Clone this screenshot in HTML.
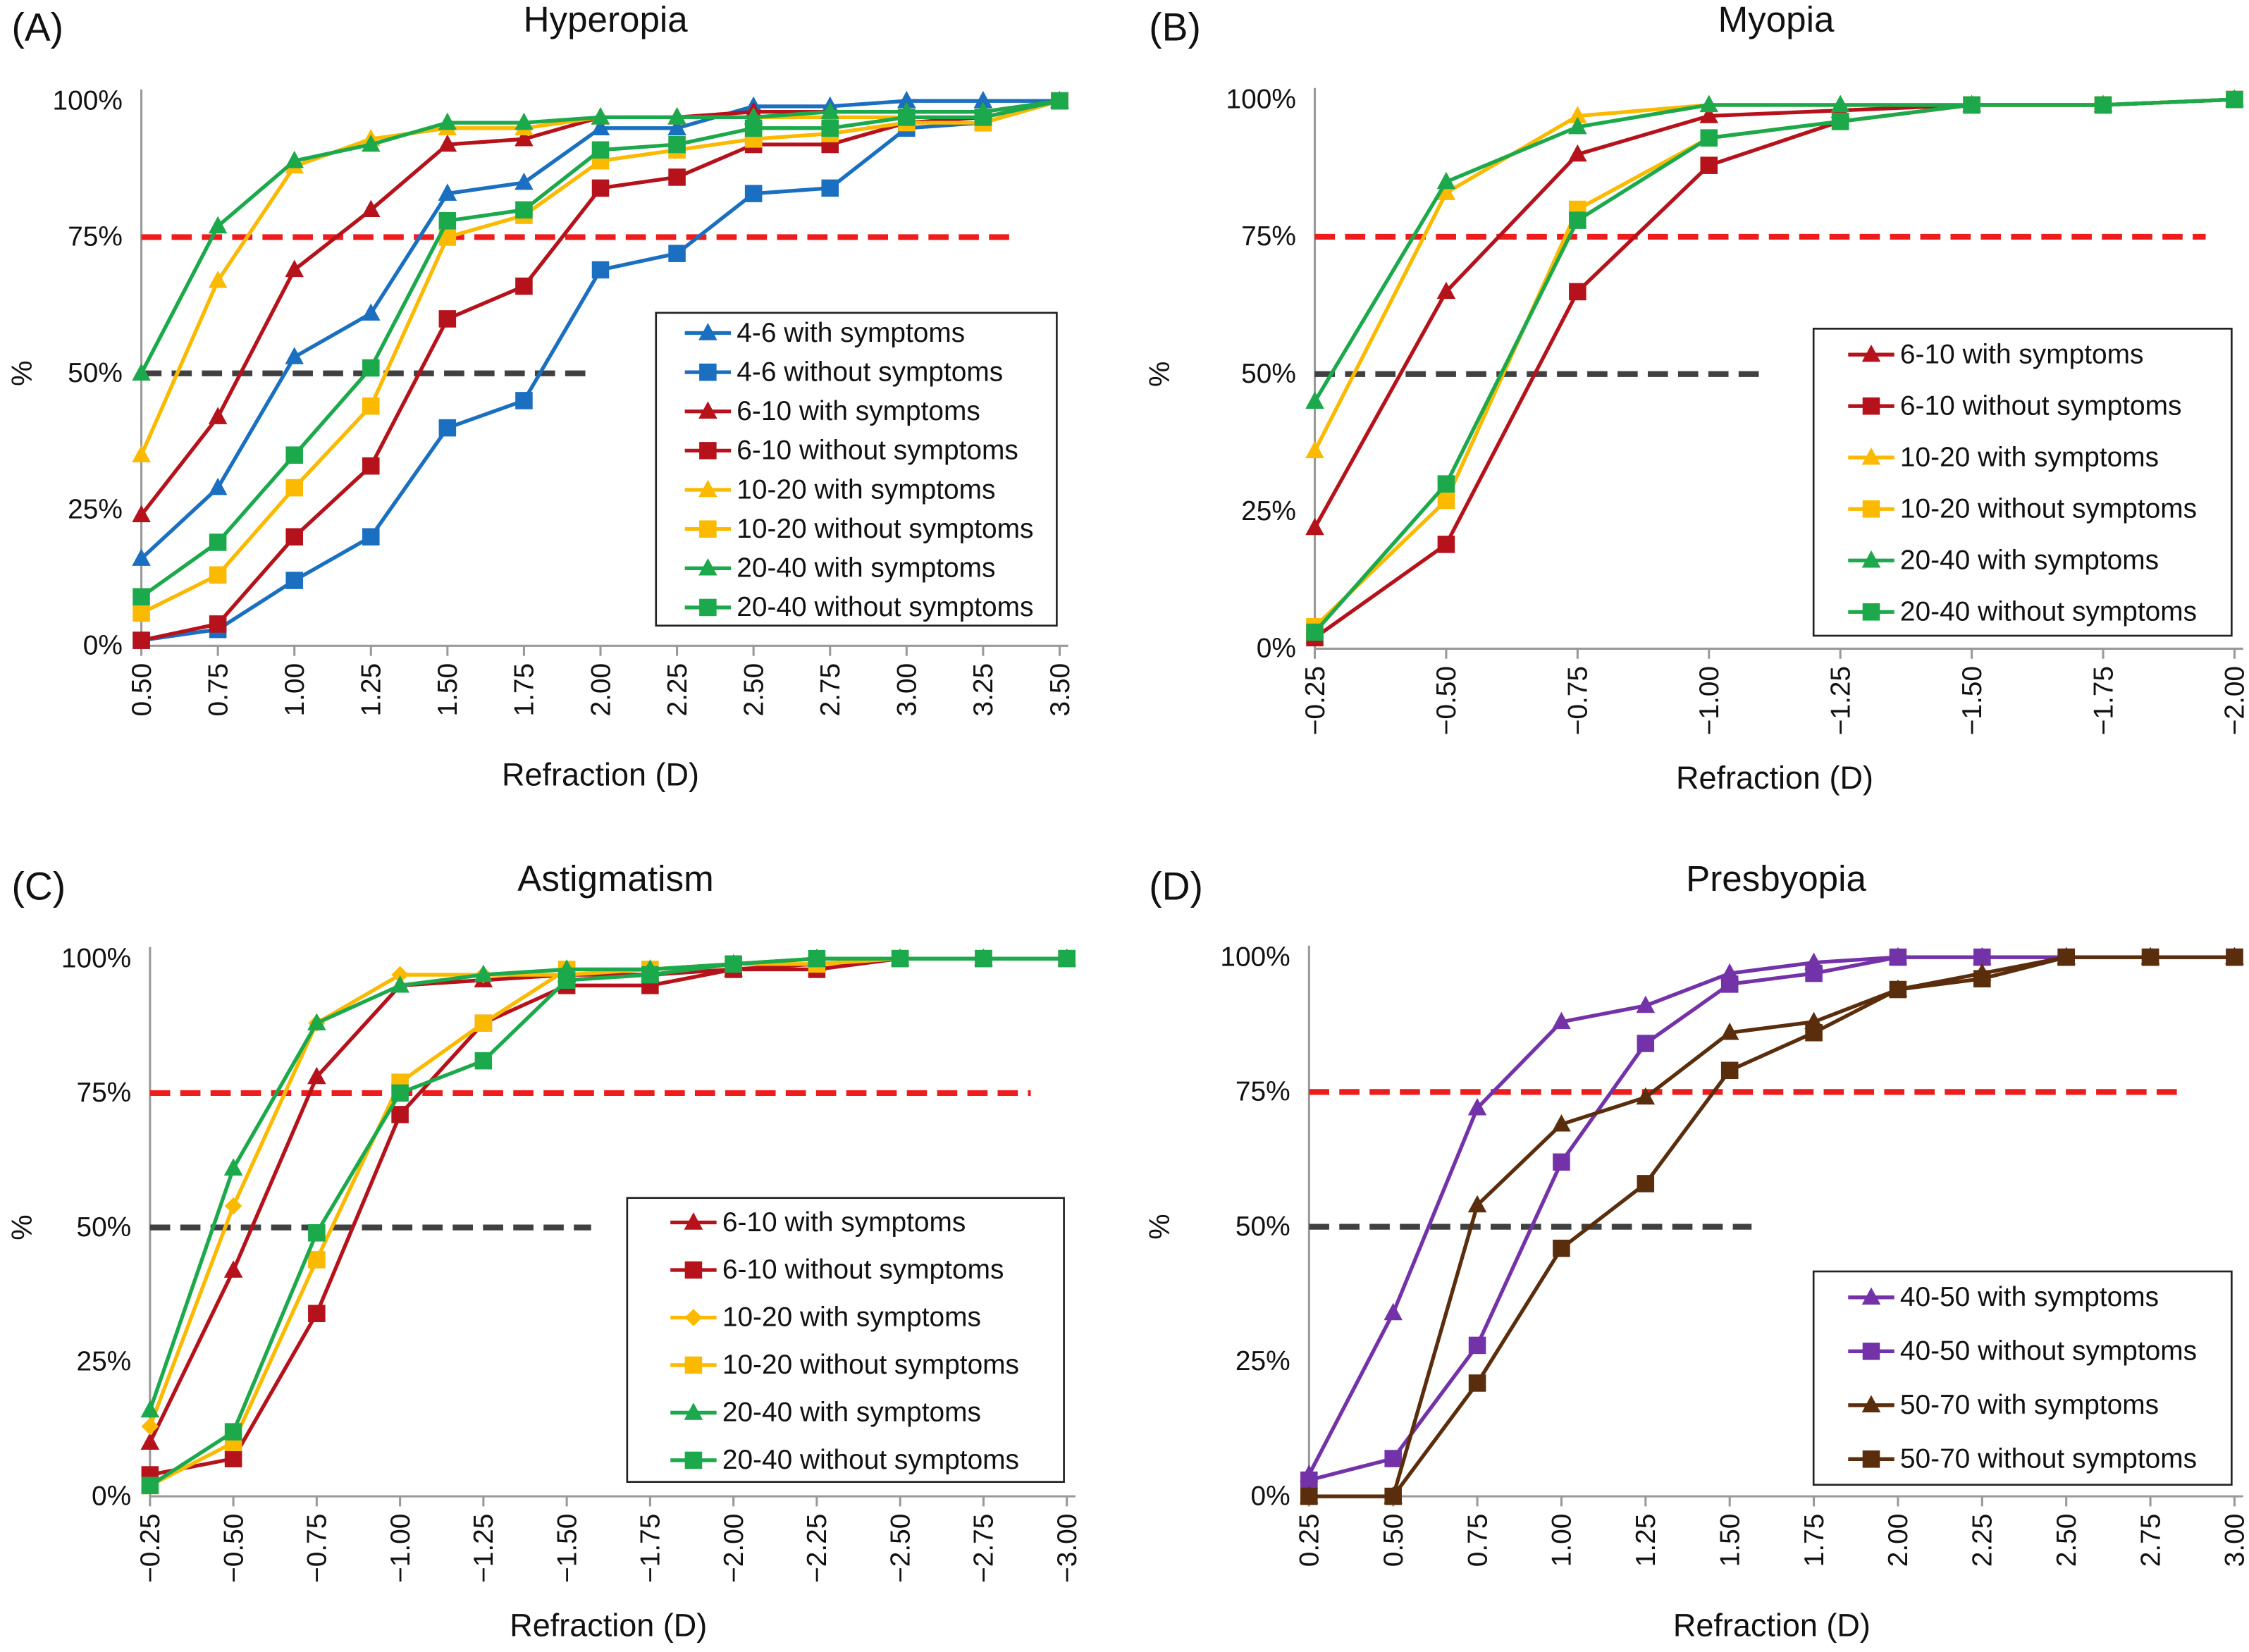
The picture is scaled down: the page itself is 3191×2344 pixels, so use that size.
<!DOCTYPE html>
<html><head><meta charset="utf-8"><style>
html,body{margin:0;padding:0;background:#fff}
svg{display:block}
text{font-family:"Liberation Sans",Arial,sans-serif;fill:#111}
</style></head><body>
<svg id="fig" width="3191" height="2344" viewBox="0 0 1560 1146" xmlns="http://www.w3.org/2000/svg"></svg>
<script>
// ---------- Data ----------
const catsA = ["0.50","0.75","1.00","1.25","1.50","1.75","2.00","2.25","2.50","2.75","3.00","3.25","3.50"];
const a46w = [16,29,53,61,83,85,95,95,99,99,100,100,100];
const a46wo = [1,3,12,20,40,45,69,72,83,84,95,96,100];
const a610w = [24,42,69,80,92,93,97,97,98,98,98,98,100];
const a610wo = [1,4,20,33,60,66,84,86,92,92,96,97,100];
const a1020w = [35,67,88,93,95,95,97,97,97,97,97,97,100];
const a1020wo = [6,13,29,44,75,79,89,91,93,94,96,96,100];
const a2040w = [50,77,89,92,96,96,97,97,97,98,98,98,100];
const a2040wo = [9,19,35,51,78,80,91,92,95,95,97,97,100];

const catsB = ["\u22120.25","\u22120.50","\u22120.75","\u22121.00","\u22121.25","\u22121.50","\u22121.75","\u22122.00"];
const b610w = [22,65,90,97,98,99,99,100];
const b610wo = [2,19,65,88,96,99,99,100];
const b1020w = [36,83,97,99,99,99,99,100];
const b1020wo = [4,27,80,93,96,99,99,100];
const b2040w = [45,85,95,99,99,99,99,100];
const b2040wo = [3,30,78,93,96,99,99,100];

const catsC = ["\u22120.25","\u22120.50","\u22120.75","\u22121.00","\u22121.25","\u22121.50","\u22121.75","\u22122.00","\u22122.25","\u22122.50","\u22122.75","\u22123.00"];
const c610w = [10,42,78,95,96,97,97,98,99,100,100,100];
const c610wo = [4,7,34,71,88,95,95,98,98,100,100,100];
const c1020w = [13,54,88,97,97,97,98,99,100,100,100,100];
const c1020wo = [2,10,44,77,88,98,98,99,99,100,100,100];
const c2040w = [16,61,88,95,97,98,98,99,100,100,100,100];
const c2040wo = [2,12,49,75,81,96,97,99,100,100,100,100];

const catsD = ["0.25","0.50","0.75","1.00","1.25","1.50","1.75","2.00","2.25","2.50","2.75","3.00"];
const d4050w = [4,34,72,88,91,97,99,100,100,100,100,100];
const d4050wo = [3,7,28,62,84,95,97,100,100,100,100,100];
const d5070w = [0,0,54,69,74,86,88,94,97,100,100,100];
const d5070wo = [0,0,21,46,58,79,86,94,96,100,100,100];

const yTicks = [0,25,50,75,100];
const yTickLabels = ["0%","25%","50%","75%","100%"];

const BLUE="#1b6fc0", RED="#b5121b", YEL="#fbb900", GRN="#1ba94c", PUR="#7432a8", BRN="#5a2d0c";
const NS="http://www.w3.org/2000/svg";
const svg=document.getElementById('fig');
function mk(tag,attrs,parent){const e=document.createElementNS(NS,tag);for(const k in attrs)e.setAttribute(k,attrs[k]);(parent||svg).appendChild(e);return e;}

function panel(cfg){
  const g=mk('g',{});
  
  
  const n=cfg.cats.length;
  const xs=i=>cfg.x0+(cfg.x1-cfg.x0)*i/(n-1);
  const ys=v=>cfg.y0-(cfg.y0-cfg.y100)*v/100;
  let t=mk('text',{x:cfg.titleX,y:cfg.titleY,'font-size':25,'text-anchor':'middle'},g);t.textContent=cfg.title;
  
  t=mk('text',{x:cfg.labX,y:cfg.titleY+6,'font-size':27},g);t.textContent=cfg.lab;
  
  let ax=mk('line',{x1:cfg.x0,y1:cfg.y0,x2:cfg.x1+6,y2:cfg.y0,stroke:'#999','stroke-width':1.5},g);
  
  ax=mk('line',{x1:cfg.x0,y1:cfg.y0,x2:cfg.x0,y2:cfg.y100-8,stroke:'#999','stroke-width':1.5},g);
  
  yTicks.forEach((v,i)=>{
    const tl=mk('text',{x:cfg.x0-13,y:ys(v)+6,'font-size':19,'text-anchor':'end'},g);tl.textContent=yTickLabels[i];
    
  });
  cfg.cats.forEach((c,i)=>{
    mk('line',{x1:xs(i),y1:cfg.y0,x2:xs(i),y2:cfg.y0+7,stroke:'#999','stroke-width':1.5},g);
    const tl=mk('text',{x:0,y:0,'font-size':19,'text-anchor':'end',transform:`translate(${xs(i)+6.5},${cfg.y0+12}) rotate(-90)`},g);tl.textContent=c;
    
  });
  t=mk('text',{x:(cfg.x0+cfg.x1)/2,y:cfg.y0+97,'font-size':22,'text-anchor':'middle'},g);t.textContent='Refraction (D)';
  
  t=mk('text',{x:0,y:0,'font-size':20,'text-anchor':'middle',transform:`translate(${cfg.labX+14},${ys(50)}) rotate(-90)`},g);t.textContent='%';
  
  let rl=mk('line',{x1:cfg.x0,y1:ys(75),x2:cfg.redEnd,y2:ys(75),stroke:'#ee1c1c','stroke-width':4,'stroke-dasharray':'14 7'},g);
  
  rl=mk('line',{x1:cfg.x0,y1:ys(50),x2:cfg.blkEnd,y2:ys(50),stroke:'#404040','stroke-width':4,'stroke-dasharray':'14 7'},g);
  
  cfg.series.forEach(s=>{
    const sg=mk('g',{},g);
    
    
    mk('polyline',{points:s.v.map((v,i)=>xs(i)+','+ys(v)).join(' '),fill:'none',stroke:s.c,'stroke-width':2.6,'stroke-linejoin':'round'},sg);
    s.v.forEach((v,i)=>marker(sg,s.m,xs(i),ys(v),s.c));
  });
  const L=cfg.leg;
  const lb=mk('rect',{x:L.x,y:L.y,width:L.w,height:L.h,fill:'#fff',stroke:'#222','stroke-width':1.3},g);
  
  cfg.series.forEach((s,i)=>{
    const yy=L.y0+L.dy*i;
    const lg=mk('g',{},g);
    
    
    mk('line',{x1:L.x+L.lx,y1:yy,x2:L.x+L.lx+32,y2:yy,stroke:s.c,'stroke-width':2.6},lg);
    marker(lg,s.m,L.x+L.lx+16,yy,s.c);
    const tt=mk('text',{x:L.x+L.lx+36,y:yy+6,'font-size':19},lg);tt.textContent=s.name;
  });
}
function marker(p,m,x,y,c){
  if(m==='s') mk('rect',{x:x-6,y:y-6,width:12,height:12,fill:c},p);
  else if(m==='t') mk('polygon',{points:`${x},${y-7} ${x+6.5},${y+5} ${x-6.5},${y+5}`,fill:c},p);
  else mk('polygon',{points:`${x},${y-6} ${x+6},${y} ${x},${y+6} ${x-6},${y}`,fill:c},p);
}

panel({id:'hyperopia',title:'Hyperopia',lab:'(A)',labX:8,titleX:420,titleY:22,cats:catsA,x0:98,x1:735,y0:448,y100:70,redEnd:707,blkEnd:407,
  series:[{name:'4-6 with symptoms',v:a46w,c:BLUE,m:'t'},{name:'4-6 without symptoms',v:a46wo,c:BLUE,m:'s'},
  {name:'6-10 with symptoms',v:a610w,c:RED,m:'t'},{name:'6-10 without symptoms',v:a610wo,c:RED,m:'s'},
  {name:'10-20 with symptoms',v:a1020w,c:YEL,m:'t'},{name:'10-20 without symptoms',v:a1020wo,c:YEL,m:'s'},
  {name:'20-40 with symptoms',v:a2040w,c:GRN,m:'t'},{name:'20-40 without symptoms',v:a2040wo,c:GRN,m:'s'}],
  leg:{x:455,y:217,w:278,h:217,y0:231,dy:27.2,lx:20}});
panel({id:'myopia',title:'Myopia',lab:'(B)',labX:797,titleX:1232,titleY:22,cats:catsB,x0:912,x1:1550,y0:450,y100:69,redEnd:1530,blkEnd:1220,
  series:[{name:'6-10 with symptoms',v:b610w,c:RED,m:'t'},{name:'6-10 without symptoms',v:b610wo,c:RED,m:'s'},
  {name:'10-20 with symptoms',v:b1020w,c:YEL,m:'t'},{name:'10-20 without symptoms',v:b1020wo,c:YEL,m:'s'},
  {name:'20-40 with symptoms',v:b2040w,c:GRN,m:'t'},{name:'20-40 without symptoms',v:b2040wo,c:GRN,m:'s'}],
  leg:{x:1258,y:228,w:290,h:213,y0:246,dy:35.7,lx:24}});
panel({id:'astigmatism',title:'Astigmatism',lab:'(C)',labX:8,titleX:427,titleY:618,cats:catsC,x0:104,x1:740,y0:1038,y100:665,redEnd:715,blkEnd:410,
  series:[{name:'6-10 with symptoms',v:c610w,c:RED,m:'t'},{name:'6-10 without symptoms',v:c610wo,c:RED,m:'s'},
  {name:'10-20 with symptoms',v:c1020w,c:YEL,m:'d'},{name:'10-20 without symptoms',v:c1020wo,c:YEL,m:'s'},
  {name:'20-40 with symptoms',v:c2040w,c:GRN,m:'t'},{name:'20-40 without symptoms',v:c2040wo,c:GRN,m:'s'}],
  leg:{x:435,y:831,w:303,h:197,y0:848,dy:33,lx:30}});
panel({id:'presbyopia',title:'Presbyopia',lab:'(D)',labX:797,titleX:1232,titleY:618,cats:catsD,x0:908,x1:1550,y0:1038,y100:664,redEnd:1515,blkEnd:1215,
  series:[{name:'40-50 with symptoms',v:d4050w,c:PUR,m:'t'},{name:'40-50 without symptoms',v:d4050wo,c:PUR,m:'s'},
  {name:'50-70 with symptoms',v:d5070w,c:BRN,m:'t'},{name:'50-70 without symptoms',v:d5070wo,c:BRN,m:'s'}],
  leg:{x:1258,y:882,w:290,h:148,y0:900,dy:37.4,lx:24}});
</script>
</body></html>
